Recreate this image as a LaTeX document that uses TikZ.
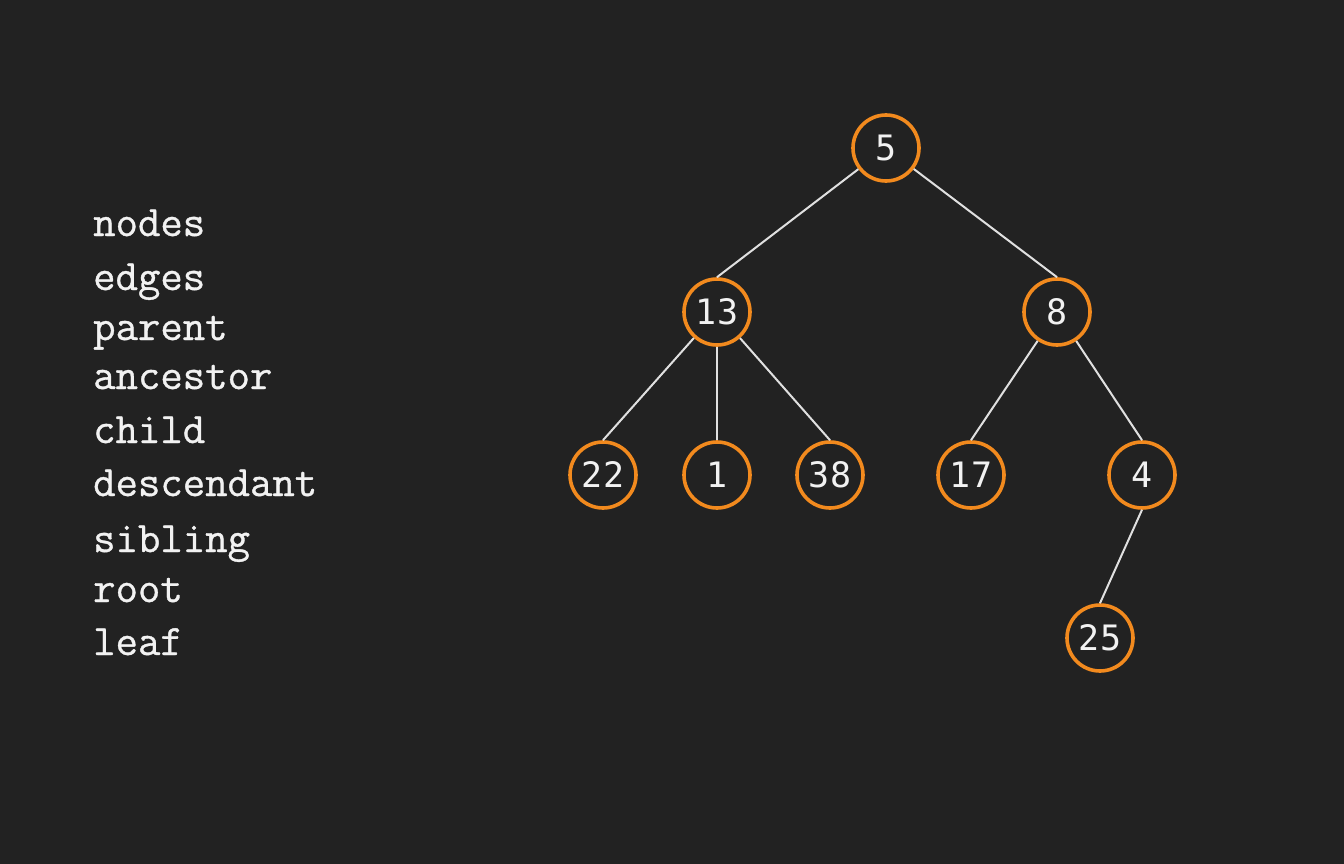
\documentclass[tikz,border=0pt]{standalone}
\usepackage{fontspec}
\newfontfamily\numfont{DejaVu Sans Mono}
% fill and stroke the glyphs so the typewriter face reads a little heavier
\newcommand{\heavier}[1]{\special{pdf:literal direct 2 Tr 0.35 w}#1\special{pdf:literal direct 0 Tr}}
\begin{document}
\definecolor{bg}{HTML}{222222}
\definecolor{ring}{HTML}{F28A1E}
\definecolor{ink}{HTML}{F2F2F2}
\definecolor{wire}{HTML}{E0E0E0}
\begin{tikzpicture}[x=1pt,y=-1pt,
  term/.style={anchor=base west,inner sep=0pt,text=ink,font=\ttfamily\fontsize{43.5}{45}\selectfont},
  vert/.style={circle,draw=ring,line width=3.6pt,minimum size=66pt,inner sep=0pt,text=ink,font=\numfont\fontsize{35}{37}\selectfont},
  link/.style={draw=wire,line width=2pt}]
\fill[bg] (0,0) rectangle (1344,864);
\useasboundingbox (0,0) rectangle (1344,864);

% glossary
\node[term] (t1) at (93,236) {\heavier{nodes}};
\node[term] (t2) at (93,290) {\heavier{edges}};
\node[term] (t3) at (93,340) {\heavier{parent}};
\node[term] (t4) at (93,389) {\heavier{ancestor}};
\node[term] (t5) at (93,443) {\heavier{child}};
\node[term] (t6) at (93,496) {\heavier{descendant}};
\node[term] (t7) at (93,552) {\heavier{sibling}};
\node[term] (t8) at (93,602) {\heavier{root}};
\node[term] (t9) at (93,655) {\heavier{leaf}};

% tree
\node[vert] (n5)  at (886,148) {5};
\node[vert] (n13) at (717,312) {13};
\node[vert] (n8)  at (1057,312) {8};
\node[vert] (n22) at (603,475) {22};
\node[vert] (n1)  at (717,475) {1};
\node[vert] (n38) at (830,475) {38};
\node[vert] (n17) at (971,475) {17};
\node[vert] (n4)  at (1142,475) {4};
\node[vert] (n25) at (1100,638) {25};

% edges end at the top of each child
\draw[link] (n5) -- (n13.north);
\draw[link] (n5) -- (n8.north);
\draw[link] (n13) -- (n22.north);
\draw[link] (n13) -- (n1.north);
\draw[link] (n13) -- (n38.north);
\draw[link] (n8) -- (n17.north);
\draw[link] (n8) -- (n4.north);
\draw[link] (n4.south) -- (n25.north);
\end{tikzpicture}
\end{document}
